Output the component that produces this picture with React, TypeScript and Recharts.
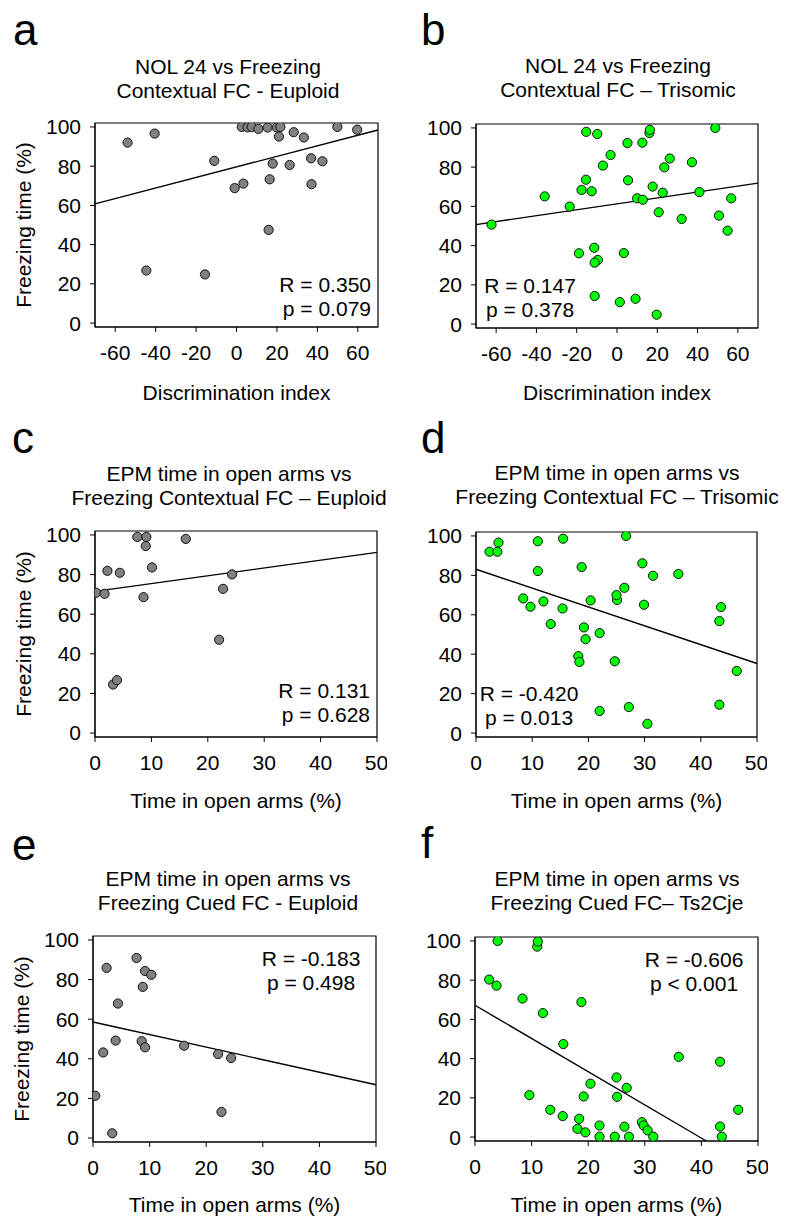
import React from "react";
import {
  ScatterChart,
  Scatter,
  XAxis,
  YAxis,
  ReferenceLine,
  ReferenceArea,
} from "recharts";

// --- data ---
// a: NOL 24 discrimination index vs contextual freezing, euploid
const nolEuploid = [
  { x: -53.9, y: 92.0 }, { x: -40.5, y: 96.6 }, { x: -44.6, y: 26.8 }, { x: -15.6, y: 24.8 },
  { x: -11.0, y: 82.7 }, { x: -0.9, y: 68.8 }, { x: 3.4, y: 71.1 }, { x: 2.6, y: 100 },
  { x: 5.4, y: 99.8 }, { x: 7.5, y: 100 }, { x: 10.8, y: 99.0 }, { x: 15.4, y: 99.7 },
  { x: 19.9, y: 99.7 }, { x: 21.7, y: 100 }, { x: 21.0, y: 95.1 }, { x: 16.4, y: 73.3 },
  { x: 17.9, y: 81.3 }, { x: 15.9, y: 47.5 }, { x: 26.3, y: 80.6 }, { x: 28.3, y: 97.3 },
  { x: 33.3, y: 94.6 }, { x: 36.9, y: 84.0 }, { x: 37.1, y: 70.8 }, { x: 42.5, y: 82.5 },
  { x: 49.9, y: 100 }, { x: 59.7, y: 98.6 },
];

// b: NOL 24 vs contextual freezing, trisomic
const nolTrisomic = [
  { x: -62.3, y: 50.7 }, { x: -35.9, y: 65.1 }, { x: -23.5, y: 59.9 }, { x: -18.9, y: 36.1 },
  { x: -17.6, y: 68.4 }, { x: -15.4, y: 73.6 }, { x: -15.3, y: 98.0 }, { x: -12.6, y: 67.7 },
  { x: -11.3, y: 38.9 }, { x: -9.5, y: 32.7 }, { x: -11.1, y: 31.3 }, { x: -11.1, y: 14.3 },
  { x: -9.8, y: 96.9 }, { x: -7.0, y: 80.8 }, { x: -3.2, y: 86.2 }, { x: 1.4, y: 11.2 },
  { x: 3.4, y: 36.2 }, { x: 5.2, y: 92.3 }, { x: 5.5, y: 73.3 }, { x: 9.2, y: 12.9 },
  { x: 10.0, y: 64.1 }, { x: 12.8, y: 63.4 }, { x: 12.6, y: 92.5 }, { x: 16.1, y: 97.4 },
  { x: 16.3, y: 99.0 }, { x: 17.7, y: 70.1 }, { x: 19.7, y: 4.8 }, { x: 20.7, y: 57.0 },
  { x: 22.7, y: 67.0 }, { x: 23.5, y: 79.9 }, { x: 26.2, y: 84.4 }, { x: 32.1, y: 53.6 },
  { x: 37.2, y: 82.5 }, { x: 40.9, y: 67.3 }, { x: 48.8, y: 100 }, { x: 50.6, y: 55.3 },
  { x: 54.9, y: 47.6 }, { x: 56.7, y: 64.1 },
];

// c: EPM open arms vs contextual freezing, euploid
const epmCtxEuploid = [
  { x: 0.2, y: 70.8 }, { x: 1.7, y: 70.3 }, { x: 2.2, y: 81.9 }, { x: 4.4, y: 80.9 },
  { x: 3.2, y: 24.5 }, { x: 3.9, y: 26.7 }, { x: 7.5, y: 99.0 }, { x: 9.1, y: 99.0 },
  { x: 9.0, y: 94.4 }, { x: 8.6, y: 68.6 }, { x: 10.1, y: 83.6 }, { x: 16.1, y: 98.0 },
  { x: 22.0, y: 47.1 }, { x: 22.7, y: 72.8 }, { x: 24.3, y: 80.1 },
];

// d: EPM open arms vs contextual freezing, trisomic
const epmCtxTrisomic = [
  { x: 2.4, y: 92.0 }, { x: 3.8, y: 92.0 }, { x: 4.0, y: 96.6 }, { x: 11.0, y: 97.3 },
  { x: 11.0, y: 82.2 }, { x: 15.5, y: 98.6 }, { x: 8.4, y: 68.3 }, { x: 9.7, y: 64.1 },
  { x: 12.0, y: 66.8 }, { x: 13.3, y: 55.3 }, { x: 15.4, y: 63.2 }, { x: 18.8, y: 84.2 },
  { x: 18.2, y: 39.0 }, { x: 18.4, y: 36.1 }, { x: 19.2, y: 53.6 }, { x: 19.5, y: 47.6 },
  { x: 20.4, y: 67.3 }, { x: 22.0, y: 50.7 }, { x: 22.0, y: 11.2 }, { x: 24.7, y: 36.4 },
  { x: 25.1, y: 67.5 }, { x: 25.0, y: 70.0 }, { x: 26.4, y: 73.7 }, { x: 26.7, y: 100 },
  { x: 27.2, y: 13.2 }, { x: 29.6, y: 86.1 }, { x: 29.9, y: 65.1 }, { x: 30.5, y: 4.7 },
  { x: 31.5, y: 79.8 }, { x: 36.0, y: 80.7 }, { x: 43.3, y: 56.8 }, { x: 43.6, y: 63.9 },
  { x: 43.3, y: 14.4 }, { x: 46.4, y: 31.5 },
];

// e: EPM open arms vs cued freezing, euploid
const epmCuedEuploid = [
  { x: 0.4, y: 21.3 }, { x: 1.8, y: 43.2 }, { x: 2.4, y: 85.9 }, { x: 3.4, y: 2.4 },
  { x: 4.0, y: 49.2 }, { x: 4.4, y: 67.9 }, { x: 7.7, y: 90.9 }, { x: 9.2, y: 84.3 },
  { x: 10.3, y: 82.4 }, { x: 8.8, y: 76.3 }, { x: 8.6, y: 48.9 }, { x: 9.2, y: 45.8 },
  { x: 16.1, y: 46.6 }, { x: 22.1, y: 42.4 }, { x: 22.7, y: 13.2 }, { x: 24.4, y: 40.4 },
];

// f: EPM open arms vs cued freezing, Ts2Cje
const epmCuedTs = [
  { x: 2.5, y: 80.3 }, { x: 3.8, y: 77.2 }, { x: 4.0, y: 100 }, { x: 11.0, y: 97.1 },
  { x: 11.1, y: 99.7 }, { x: 8.4, y: 70.6 }, { x: 12.0, y: 63.2 }, { x: 9.6, y: 21.4 },
  { x: 13.3, y: 13.9 }, { x: 15.5, y: 10.7 }, { x: 15.6, y: 47.4 }, { x: 18.8, y: 68.8 },
  { x: 18.1, y: 4.2 }, { x: 18.4, y: 9.3 }, { x: 19.5, y: 2.4 }, { x: 19.2, y: 20.7 },
  { x: 20.4, y: 27.2 }, { x: 22.0, y: 5.9 }, { x: 22.0, y: 0.2 }, { x: 24.7, y: 0.2 },
  { x: 25.0, y: 30.4 }, { x: 25.1, y: 20.5 }, { x: 26.4, y: 5.3 }, { x: 26.8, y: 25.1 },
  { x: 27.2, y: 0.2 }, { x: 29.5, y: 7.6 }, { x: 29.8, y: 5.9 }, { x: 30.5, y: 3.4 },
  { x: 31.5, y: 0.2 }, { x: 36.0, y: 40.9 }, { x: 43.3, y: 38.4 }, { x: 43.3, y: 5.4 },
  { x: 43.6, y: 0.2 }, { x: 46.5, y: 13.9 },
];

// regression fits as drawn (intercept, slope)
const fitIntercepts = [79.6, 61.3, 71.5, 83.1, 58.6, 67.2];
const fitSlopes = [0.269, 0.151, 0.394, -0.956, -0.634, -1.693];

const statR = ["R = 0.350", "R = 0.147", "R = 0.131", "R = -0.420", "R = -0.183", "R = -0.606"];
const statP = ["p = 0.079", "p = 0.378", "p = 0.628", "p = 0.013", "p = 0.498", "p < 0.001"];

const titles = [
  ["NOL 24 vs Freezing", "Contextual FC - Euploid"],
  ["NOL 24 vs Freezing", "Contextual FC \u2013 Trisomic"],
  ["EPM time in open arms vs", "Freezing Contextual FC \u2013 Euploid"],
  ["EPM time in open arms vs", "Freezing Contextual FC \u2013 Trisomic"],
  ["EPM time in open arms vs", "Freezing Cued FC - Euploid"],
  ["EPM time in open arms vs", "Freezing Cued FC\u2013 Ts2Cje"],
];
const letters = ["a", "b", "c", "d", "e", "f"];
const xLabels = [
  "Discrimination index", "Discrimination index",
  "Time in open arms (%)", "Time in open arms (%)",
  "Time in open arms (%)", "Time in open arms (%)",
];

const nolTicks = [-60, -40, -20, 0, 20, 40, 60];
const epmTicks = [0, 10, 20, 30, 40, 50];
const yTicks = [0, 20, 40, 60, 80, 100];
const nolDomain: [number, number] = [-70, 70];
const epmDomain: [number, number] = [0, 50];
const yDomain: [number, number] = [-2, 102];

const GRAY = "#808080";
const GREEN = "#00ff00";
const FONT = "'Liberation Sans', Arial, Helvetica, sans-serif";

// layout of each panel (plot box + text anchors)
const panels = [
  { data: nolEuploid, fill: GRAY, xd: nolDomain, xt: nolTicks, box: { x: 95, y: 123, w: 283, h: 204 },
    tx: 228, ty: 74, lx: 13, ly: 45, stat: { x: 371, y: 292, a: "end" }, xly: 400, yLabel: true },
  { data: nolTrisomic, fill: GREEN, xd: nolDomain, xt: nolTicks, box: { x: 476, y: 124, w: 282, h: 204 },
    tx: 618, ty: 73, lx: 421, ly: 45, stat: { x: 530, y: 293, a: "middle" }, xly: 400, yLabel: false },
  { data: epmCtxEuploid, fill: GRAY, xd: epmDomain, xt: epmTicks, box: { x: 95, y: 531, w: 282, h: 206 },
    tx: 229, ty: 481, lx: 12, ly: 453, stat: { x: 370, y: 698, a: "end" }, xly: 808, yLabel: true },
  { data: epmCtxTrisomic, fill: GREEN, xd: epmDomain, xt: epmTicks, box: { x: 476, y: 532, w: 281, h: 205 },
    tx: 617, ty: 480, lx: 421, ly: 453, stat: { x: 529, y: 701, a: "middle" }, xly: 808, yLabel: false },
  { data: epmCuedEuploid, fill: GRAY, xd: epmDomain, xt: epmTicks, box: { x: 93, y: 936, w: 283, h: 206 },
    tx: 228, ty: 886, lx: 12, ly: 860, stat: { x: 311, y: 966, a: "middle" }, xly: 1212, yLabel: true },
  { data: epmCuedTs, fill: GREEN, xd: epmDomain, xt: epmTicks, box: { x: 475, y: 937, w: 283, h: 204 },
    tx: 617, ty: 886, lx: 421, ly: 858, stat: { x: 694, y: 967, a: "middle" }, xly: 1212, yLabel: false },
];

const Dot = (fill: string) => (props: any) => (
  <circle cx={props.cx} cy={props.cy} r={4.6} fill={fill} stroke="#111" strokeWidth={1} />
);

function fitSegment(i: number, xd: [number, number]) {
  const b0 = fitIntercepts[i];
  const b1 = fitSlopes[i];
  let x0 = xd[0];
  let x1 = xd[1];
  let y0 = b0 + b1 * x0;
  let y1 = b0 + b1 * x1;
  if (y1 < yDomain[0]) {
    x1 = (yDomain[0] - b0) / b1;
    y1 = yDomain[0];
  }
  return [{ x: x0, y: y0 }, { x: x1, y: y1 }];
}

const tickStyle = { fontSize: 21, fill: "#000", fontFamily: FONT };

function Panel({ i }: { i: number }) {
  const p = panels[i];
  const padL = 70;
  const padT = 10;
  const padR = 10;
  const xAxisH = 45;
  const w = p.box.w + padL + padR;
  const h = p.box.h + padT + xAxisH;
  return (
    <div style={{ position: "absolute", left: p.box.x - padL, top: p.box.y - padT, width: w, height: h }}>
      <ScatterChart width={w} height={h} margin={{ top: padT, right: padR, left: 0, bottom: 0 }}>
        <XAxis
          type="number"
          dataKey="x"
          domain={p.xd}
          ticks={p.xt}
          allowDataOverflow
          height={xAxisH}
          tick={tickStyle}
          tickSize={5}
          tickMargin={13}
          axisLine={{ stroke: "#000" }}
          tickLine={{ stroke: "#000" }}
        />
        <YAxis
          type="number"
          dataKey="y"
          domain={yDomain}
          ticks={yTicks}
          allowDataOverflow
          width={padL}
          tick={tickStyle}
          tickSize={5}
          tickMargin={9}
          axisLine={{ stroke: "#000" }}
          tickLine={{ stroke: "#000" }}
        />
        <ReferenceArea
          x1={p.xd[0]}
          x2={p.xd[1]}
          y1={yDomain[0]}
          y2={yDomain[1]}
          fill="none"
          fillOpacity={0}
          stroke="#000"
          strokeWidth={1.2}
          ifOverflow="visible"
        />
        <Scatter data={p.data} shape={Dot(p.fill)} isAnimationActive={false} />
        <ReferenceLine
          segment={fitSegment(i, p.xd)}
          stroke="#000"
          strokeWidth={1.4}
          ifOverflow="visible"
        />
      </ScatterChart>
    </div>
  );
}

function Overlay() {
  return (
    <svg
      width={786}
      height={1218}
      style={{ position: "absolute", left: 0, top: 0, pointerEvents: "none" }}
      fontFamily={FONT}
    >
      {panels.map((p, i) => (
        <g key={i}>
          <text x={p.lx} y={p.ly} fontSize={44} fill="#000">{letters[i]}</text>
          <text x={p.tx} y={p.ty} fontSize={21} textAnchor="middle" fill="#000">{titles[i][0]}</text>
          <text x={p.tx} y={p.ty + 24} fontSize={21} textAnchor="middle" fill="#000">{titles[i][1]}</text>
          <text x={p.stat.x} y={p.stat.y} fontSize={21} textAnchor={p.stat.a as any} fill="#000">{statR[i]}</text>
          <text x={p.stat.x} y={p.stat.y + 24} fontSize={21} textAnchor={p.stat.a as any} fill="#000">{statP[i]}</text>
          <text x={p.box.x + p.box.w / 2} y={p.xly} fontSize={21} textAnchor="middle" fill="#000">{xLabels[i]}</text>
          {p.yLabel && (
            <text
              x={0}
              y={0}
              fontSize={21}
              textAnchor="middle"
              fill="#000"
              transform={`translate(${p.box.x - 71}, ${p.box.y + p.box.h / 2}) rotate(-90)`}
              dy="0.35em"
            >
              Freezing time (%)
            </text>
          )}
        </g>
      ))}
    </svg>
  );
}

export default function App() {
  return (
    <div style={{ position: "absolute", left: 0, top: 0, width: 786, height: 1218, background: "#fff", fontFamily: FONT }}>
      {panels.map((_, i) => (
        <Panel key={i} i={i} />
      ))}
      <Overlay />
    </div>
  );
}
